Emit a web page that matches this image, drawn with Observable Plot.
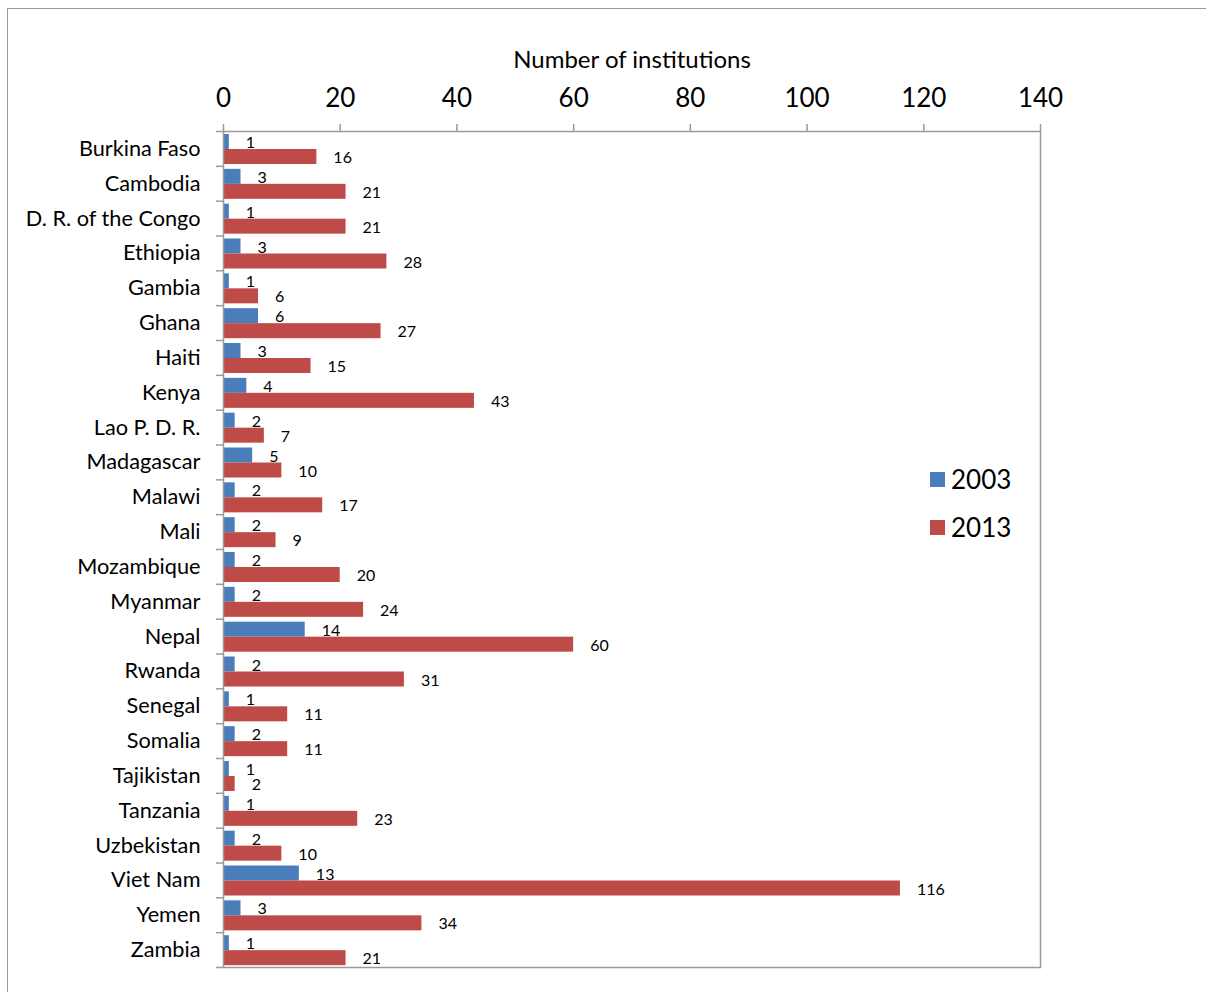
<!DOCTYPE html>
<html>
<head>
<meta charset="utf-8">
<script src="https://cdn.jsdelivr.net/npm/d3@7"></script>
<script src="https://cdn.jsdelivr.net/npm/@observablehq/plot@0.6"></script>
<style>
  html, body { margin: 0; padding: 0; background: #fff; overflow: hidden; }
  #wrap { position: relative; width: 1206px; height: 992px; }
  #outer { position: absolute; left: 7px; top: 8px; width: 1400px; height: 1200px; border: 1.5px solid #9a9a9a; box-sizing: border-box; pointer-events: none; }
  #legend { position: absolute; left: 930px; top: 464px; font-family: Lato, sans-serif; font-size: 26px; color: #000; }
  #legend .row { display: flex; align-items: center; height: 30px; margin-bottom: 18px; }
  #legend .sw { width: 15px; height: 15px; margin-right: 6px; }
</style>
</head>
<body>
<div id="wrap"><div id="outer"></div><div id="chart"></div><div id="legend"></div></div>
<script>
const countries = ["Burkina Faso","Cambodia","D. R. of the Congo","Ethiopia","Gambia","Ghana","Haiti","Kenya","Lao P. D. R.","Madagascar","Malawi","Mali","Mozambique","Myanmar","Nepal","Rwanda","Senegal","Somalia","Tajikistan","Tanzania","Uzbekistan","Viet Nam","Yemen","Zambia"];
const v2003 = [1,3,1,3,1,6,3,4,2,5,2,2,2,2,14,2,1,2,1,1,2,13,3,1];
const v2013 = [16,21,21,28,6,27,15,43,7,10,17,9,20,24,60,31,11,11,2,23,10,116,34,21];
const years = ["2003","2013"];
const colors = ["#4A7EBB","#BE4B48"];
const xTicks = [0,20,40,60,80,100,120,140];
const axisTitle = "Number of institutions";

const d03 = countries.map((c,i) => ({country: c, value: v2003[i]}));
const d13 = countries.map((c,i) => ({country: c, value: v2013[i]}));

const W = 1206, H = 992;
const mL = 223, mT = 131, mR = 1206 - 1040, mB = 992 - 967;
const step = (H - mT - mB) / countries.length;

const chart = Plot.plot({
  width: W, height: H,
  marginLeft: mL, marginTop: mT, marginRight: mR, marginBottom: mB,
  style: {fontFamily: "Lato, sans-serif", background: "transparent", color: "#000"},
  x: {domain: [0, 140]},
  y: {domain: countries, paddingInner: 0, paddingOuter: 0, round: false},
  marks: [
    Plot.barX(d03, {x: "value", y: "country", fill: colors[0], insetTop: 3, insetBottom: step - 18}),
    Plot.barX(d13, {x: "value", y: "country", fill: colors[1], insetTop: 18, insetBottom: step - 33}),
    Plot.text(d03, {x: "value", y: "country", text: d => String(d.value), dx: 16.5, dy: -6, textAnchor: "start", fontSize: 16}),
    Plot.text(d13, {x: "value", y: "country", text: d => String(d.value), dx: 16.5, dy: 9, textAnchor: "start", fontSize: 16}),
    Plot.frame({stroke: "#9a9a9a", strokeWidth: 1.5}),
    Plot.axisX({anchor: "top", ticks: xTicks, tickSize: 8, tickPadding: 17, fontSize: 26, stroke: "#9a9a9a", strokeWidth: 1.5, label: null, tickFormat: d => String(d)}),
    Plot.axisY({anchor: "left", ticks: countries, tickSize: 7, text: null, dy: -step/2, stroke: "#9a9a9a", strokeWidth: 1.5, label: null}),
    Plot.axisY({anchor: "left", ticks: countries.slice(-1), tickSize: 7, text: null, dy: step/2, stroke: "#9a9a9a", strokeWidth: 1.5, label: null}),
    Plot.axisY({anchor: "left", ticks: countries, tickSize: 0, tickPadding: 23, fontSize: 21.7, label: null}),
    Plot.text([axisTitle], {text: d => d, frameAnchor: "top", lineAnchor: "middle", dy: -71, fontSize: 24})
  ]
});
document.getElementById("chart").appendChild(chart);

const legend = document.getElementById("legend");
years.forEach((y, i) => {
  const row = document.createElement("div");
  row.className = "row";
  const sw = document.createElement("div");
  sw.className = "sw";
  sw.style.background = colors[i];
  const t = document.createElement("span");
  t.textContent = y;
  row.appendChild(sw); row.appendChild(t);
  legend.appendChild(row);
});
</script>
</body>
</html>
